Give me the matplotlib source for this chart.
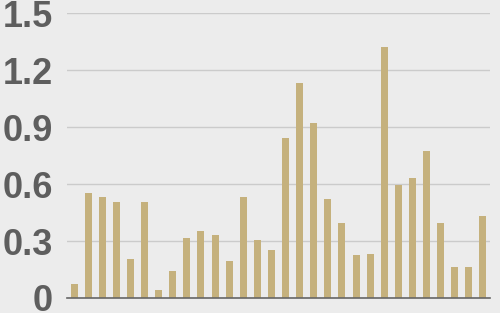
import numpy as np
import matplotlib.pyplot as plt

plt.rcParams['font.family'] = ['Liberation Sans', 'DejaVu Sans']

# bar heights (30 bars, no category labels)
values = [0.074, 0.553, 0.532, 0.507, 0.205, 0.507, 0.042, 0.142, 0.316, 0.353,
          0.332, 0.195, 0.532, 0.305, 0.253, 0.842, 1.132, 0.921, 0.521, 0.395,
          0.226, 0.232, 1.321, 0.595, 0.632, 0.774, 0.395, 0.163, 0.163, 0.432]
yticks = [0, 0.3, 0.6, 0.9, 1.2, 1.5]
ytick_labels = ['0', '0.3', '0.6', '0.9', '1.2', '1.5']

bg = '#ececec'
fig = plt.figure(figsize=(5, 3.13), dpi=100, facecolor=bg)
ax = fig.add_axes([0.134, 0.048, 0.846, 0.9095], facecolor=bg)

x = np.arange(len(values))
ax.bar(x, values, width=0.5, color='#c5b17d', zorder=3)

ax.set_xlim(-0.5, len(values) - 0.5)
ax.set_ylim(0, 1.5)
ax.set_yticks(yticks)
ax.set_yticklabels(ytick_labels, fontweight='bold')
ax.set_xticks([])

ax.yaxis.grid(True, color='#cbcbcb', linewidth=1.0, zorder=0)
ax.tick_params(axis='y', length=0, pad=10, labelsize=26, labelcolor='#5e5e5e')

for side in ['top', 'right', 'left']:
    ax.spines[side].set_visible(False)
ax.spines['bottom'].set_color('#666666')
ax.spines['bottom'].set_linewidth(1.2)
ax.spines['bottom'].set_zorder(4)

fig.savefig('out.png', dpi=100, facecolor=bg)
